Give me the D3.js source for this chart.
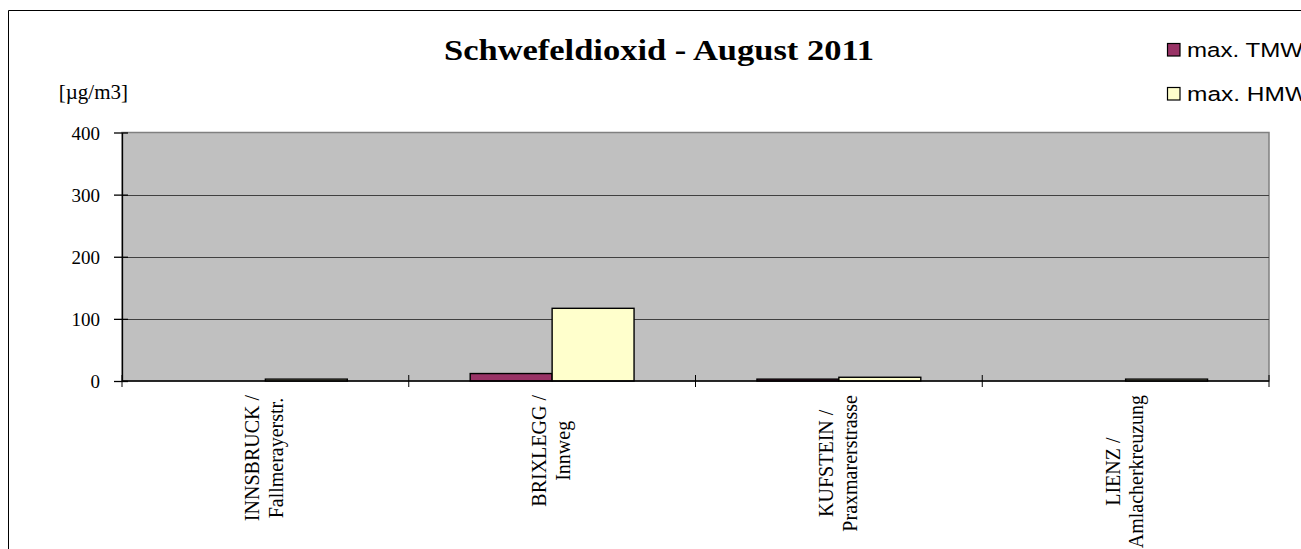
<!DOCTYPE html>
<html>
<head>
<meta charset="utf-8">
<script src="https://cdn.jsdelivr.net/npm/d3@7/dist/d3.min.js"></script>
<style>
  html, body { margin: 0; padding: 0; background: #fff; overflow: hidden; }
  svg { display: block; }
</style>
</head>
<body>
<svg id="chart" width="1301" height="549"></svg>
<script>
// ---- data ----
const categories = [
  ["INNSBRUCK /", "Fallmerayerstr."],
  ["BRIXLEGG /", "Innweg"],
  ["KUFSTEIN /", "Praxmarerstrasse"],
  ["LIENZ /", "Amlacherkreuzung"]
];
const seriesNames = ["max. TMW", "max. HMW"];
const tmwValues = [null, 12, 3, null];
const hmwValues = [3, 117, 6, 3];
const yTicks = [0, 100, 200, 300, 400];
const titleText = "Schwefeldioxid - August 2011";
const unitText = "[µg/m3]";

const colors = ["#993366", "#FFFFCC"];

(function () {
const svg = d3.select("#chart");

// outer frame (top and left edges visible)
svg.append("line").attr("x1", 8.5).attr("x2", 1301).attr("y1", 10.5).attr("y2", 10.5)
  .attr("stroke", "#000").attr("stroke-width", 1);
svg.append("line").attr("x1", 8.5).attr("x2", 8.5).attr("y1", 10.5).attr("y2", 549)
  .attr("stroke", "#000").attr("stroke-width", 1);

const pLeft = 122, pRight = 1269, pTop = 132.5, pBottom = 381;

const x = d3.scaleBand().domain(d3.range(categories.length)).range([pLeft, pRight]).paddingInner(0).paddingOuter(0);
const y = d3.scaleLinear().domain([0, 400]).range([pBottom, pTop]);

// plot area
svg.append("rect").attr("x", pLeft).attr("y", pTop).attr("width", pRight - pLeft).attr("height", pBottom - pTop)
  .attr("fill", "#C0C0C0").attr("stroke", "#808080").attr("stroke-width", 1.5);

// gridlines
svg.append("g").selectAll("line").data(yTicks.filter(d => d > 0 && d < 400)).join("line")
  .attr("x1", pLeft).attr("x2", pRight)
  .attr("y1", d => Math.round(y(d)) + 0.5).attr("y2", d => Math.round(y(d)) + 0.5)
  .attr("stroke", "#404040").attr("stroke-width", 1);

// bars
const bw = x.bandwidth() / 3.5;
const series = [tmwValues, hmwValues];
series.forEach((vals, si) => {
  const data = vals.map((v, i) => ({v, i})).filter(d => d.v != null);
  svg.append("g").selectAll("rect").data(data).join("rect")
    .attr("x", d => x(d.i) + 0.75 * bw + si * bw)
    .attr("y", d => y(d.v))
    .attr("width", bw)
    .attr("height", d => y(0) - y(d.v))
    .attr("fill", colors[si])
    .attr("stroke", "#000").attr("stroke-width", 1.4);
});

// y axis
const yAxis = d3.axisLeft(y).tickValues(yTicks).tickSizeInner(8).tickSizeOuter(0).tickPadding(14);
const gy = svg.append("g").attr("transform", `translate(${pLeft},0)`).call(yAxis);
gy.select(".domain").attr("stroke", "#000").attr("stroke-width", 1.3);
gy.selectAll(".tick line").attr("stroke", "#000").attr("stroke-width", 1.3).attr("x2", 6).attr("x1", -8);
gy.selectAll(".tick text").attr("font-family", "'Liberation Serif', 'Times New Roman', serif")
  .attr("font-size", 19).attr("fill", "#000").attr("x", -22).attr("dy", "0.35em");

// x axis baseline
svg.append("line").attr("x1", pLeft).attr("x2", pRight).attr("y1", pBottom).attr("y2", pBottom)
  .attr("stroke", "#000").attr("stroke-width", 1.3);
// x ticks at category boundaries (cross)
const bounds = d3.range(categories.length + 1).map(i => i < categories.length ? x(i) : pRight);
svg.append("g").selectAll("line").data(bounds).join("line")
  .attr("x1", d => d).attr("x2", d => d)
  .attr("y1", pBottom - 6).attr("y2", pBottom + 6)
  .attr("stroke", "#000").attr("stroke-width", 1);

// x labels (rotated)
const labelTop = 395;
const gl = svg.append("g");
categories.forEach((lines, i) => {
  const cx = x(i) + x.bandwidth() / 2;
  const texts = lines.map((t) => gl.append("text")
    .attr("font-family", "'Liberation Serif', 'Times New Roman', serif")
    .attr("font-size", 20).attr("fill", "#000")
    .attr("text-anchor", "middle").text(t));
  const maxLen = d3.max(texts, t => t.node().getComputedTextLength());
  const cy = labelTop + maxLen / 2;
  texts.forEach((t, li) => {
    const bx = cx - 6 + li * 23.7;
    t.attr("transform", `translate(${bx},${cy}) rotate(-90)`);
  });
});

// title
svg.append("text").attr("x", 659).attr("y", 60).attr("text-anchor", "middle")
  .attr("font-family", "'Liberation Serif', 'Times New Roman', serif")
  .attr("font-weight", "bold").attr("font-size", 30).attr("fill", "#000")
  .attr("textLength", 430).attr("lengthAdjust", "spacingAndGlyphs")
  .text(titleText);

// unit label
svg.append("text").attr("x", 128).attr("y", 99).attr("text-anchor", "end")
  .attr("font-family", "'Liberation Serif', 'Times New Roman', serif")
  .attr("font-size", 21).attr("fill", "#000")
  .text(unitText);

// legend
const legCY = [49.5, 93.5];
const legLen = [116, 121];
seriesNames.forEach((name, i) => {
  svg.append("rect").attr("x", 1167.5).attr("y", legCY[i] - 6).attr("width", 12.5).attr("height", 12.5)
    .attr("fill", colors[i]).attr("stroke", "#000").attr("stroke-width", 1.2);
  svg.append("text").attr("x", 1187).attr("y", legCY[i] + 7.5)
    .attr("font-family", "'Liberation Sans', Arial, sans-serif")
    .attr("font-size", 20.5).attr("fill", "#000")
    .attr("textLength", legLen[i]).attr("lengthAdjust", "spacingAndGlyphs")
    .text(name);
});
})();
</script>
</body>
</html>
